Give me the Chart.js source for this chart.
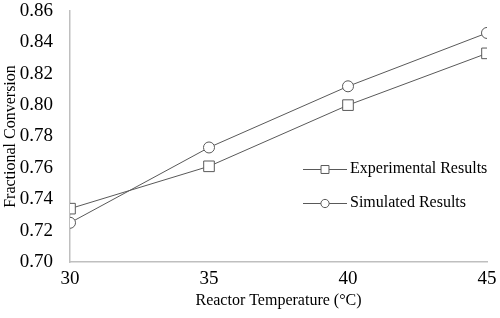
<!DOCTYPE html>
<html>
<head>
<meta charset="utf-8">
<script src="https://cdn.jsdelivr.net/npm/chart.js@4.4.0/dist/chart.umd.min.js"></script>
<style>
html,body{margin:0;padding:0;background:#fff;}
#wrap{width:500px;height:318px;position:relative;}
</style>
</head>
<body>
<div id="wrap"><canvas id="c" width="500" height="318"></canvas></div>
<script>
const temperatures = [30, 35, 40, 45];
const experimental = [0.734, 0.761, 0.800, 0.833];
const simulated = [0.725, 0.773, 0.812, 0.846];
const seriesNames = ['Experimental Results', 'Simulated Results'];
const xTitle = 'Reactor Temperature (\u00B0C)';
const yTitle = 'Fractional Conversion';

const FONT = "'Liberation Serif', 'Times New Roman', serif";
const LINE = '#595959';

const legendPlugin = {
  id: 'customLegend',
  afterDraw(chart) {
    const ctx = chart.ctx;
    const rows = [169, 203];
    chart.data.datasets.forEach((ds, i) => {
      const y = rows[i];
      ctx.save();
      ctx.strokeStyle = ds.borderColor;
      ctx.lineWidth = 1;
      ctx.beginPath();
      ctx.moveTo(303, y + 0.5);
      ctx.lineTo(347, y + 0.5);
      ctx.stroke();
      ctx.fillStyle = '#fff';
      ctx.strokeStyle = ds.pointBorderColor;
      ctx.lineWidth = 1;
      Chart.helpers.drawPoint(ctx, {
        pointStyle: ds.pointStyle,
        radius: ds.pointRadius * 0.75,
        borderWidth: 1,
        rotation: 0
      }, 325, y + 0.5);
      ctx.fillStyle = '#000';
      ctx.font = '16px ' + FONT;
      ctx.textBaseline = 'middle';
      ctx.textAlign = 'left';
      ctx.fillText(ds.label, 350, y);
      ctx.restore();
    });
  }
};

new Chart(document.getElementById('c'), {
  type: 'line',
  data: {
    datasets: [
      {
        label: seriesNames[0],
        data: temperatures.map((t, i) => ({x: t, y: experimental[i]})),
        borderColor: LINE,
        borderWidth: 1,
        pointStyle: 'rect',
        pointRadius: 7.5,
        pointBackgroundColor: '#fff',
        pointBorderColor: LINE,
        pointBorderWidth: 1,
        tension: 0
      },
      {
        label: seriesNames[1],
        data: temperatures.map((t, i) => ({x: t, y: simulated[i]})),
        borderColor: LINE,
        borderWidth: 1,
        pointStyle: 'circle',
        pointRadius: 5.5,
        pointBackgroundColor: '#fff',
        pointBorderColor: LINE,
        pointBorderWidth: 1,
        tension: 0
      }
    ]
  },
  options: {
    responsive: false,
    animation: false,
    devicePixelRatio: 1,
    layout: {padding: {left: 0, right: 13, top: 11, bottom: 0}},
    plugins: {legend: {display: false}, tooltip: {enabled: false}},
    scales: {
      x: {
        type: 'linear',
        min: 30, max: 45,
        afterBuildTicks(scale) { scale.ticks = temperatures.map(v => ({value: v})); },
        afterFit(scale) { scale.height = 56; scale.paddingLeft = 0; scale.paddingRight = 0; },
        grid: {display: true, drawOnChartArea: false, drawTicks: false},
        border: {display: true, color: '#bfbfbf', width: 1.5},
        ticks: {color: '#000', font: {family: FONT, size: 19}, padding: 6, maxRotation: 0},
        title: {display: true, text: xTitle, color: '#000', font: {family: FONT, size: 16}, padding: {top: 2, bottom: 8}}
      },
      y: {
        min: 0.70, max: 0.86,
        afterFit(scale) { scale.width = 70; scale.paddingTop = 0; scale.paddingBottom = 0; },
        grid: {display: true, drawOnChartArea: false, drawTicks: false},
        border: {display: true, color: '#bfbfbf', width: 1.5},
        ticks: {stepSize: 0.02, color: '#000', font: {family: FONT, size: 19}, padding: 17,
                callback: v => v.toFixed(2)},
        title: {display: true, text: yTitle, color: '#000', font: {family: FONT, size: 16}, padding: {top: 1, bottom: 0}}
      }
    }
  },
  plugins: [legendPlugin]
});
</script>
</body>
</html>
